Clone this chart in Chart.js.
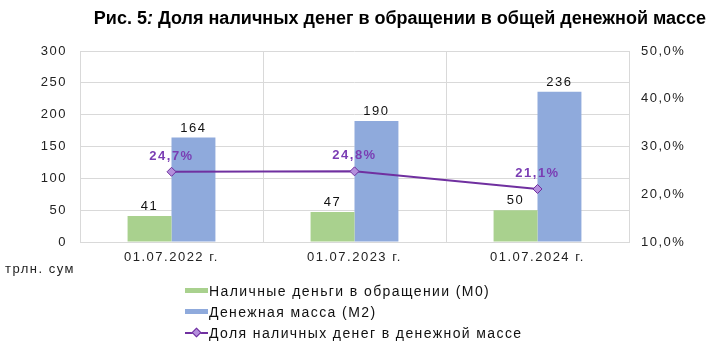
<!DOCTYPE html>
<html>
<head>
<meta charset="utf-8">
<script src="https://cdn.jsdelivr.net/npm/chart.js@4/dist/chart.umd.min.js"></script>
<style>
    body { margin: 0; background: #fff; }
    #wrap { position: relative; width: 720px; height: 352px; font-family: "Liberation Sans", Arial, sans-serif; }
    #chart { position: absolute; left: 0; top: 0; }
    .title { position: absolute; left: 0; width: 800px; top: 8px; text-align: center; font-weight: bold; font-size: 18px; color: #000; }
    .unit { position: absolute; left: 5px; top: 261px; font-size: 13px; letter-spacing: 1.5px; color: #222; }
    .legend { position: absolute; left: 185px; top: 280px; font-size: 14px; letter-spacing: 1.4px; color: #111; }
    .legend div { height: 21px; line-height: 18px; display: flex; align-items: center; }
    .sw { display: inline-block; width: 23px; height: 5px; margin-right: 1px; }
    .ln { position: relative; display: inline-block; width: 23px; height: 2px; margin-right: 1px; }
    .ln i { position: absolute; left: 8px; top: -3px; width: 5px; height: 5px; transform: rotate(45deg); }
</style>
</head>
<body>
<div id="wrap">
    <canvas id="chart" width="720" height="352"></canvas>
    <div class="title">Рис. 5<i>:</i> Доля наличных денег в обращении в общей денежной массе</div>
    <div class="unit">трлн. сум</div>
    <div class="legend" id="legend"></div>
</div>
<script>
const categories = ['01.07.2022 г.', '01.07.2023 г.', '01.07.2024 г.'];
const cashM0 = [41, 47, 50];
const moneyM2 = [164, 190, 236];
const cashShare = [24.7, 24.8, 21.1];
const seriesNames = ['Наличные деньги в обращении (М0)', 'Денежная масса (М2)', 'Доля наличных денег в денежной массе'];

const green = '#a9d18e';
const blue = '#8faadc';
const purple = '#7030a0';
const lilac = '#b48fdc';
const tickFont = { family: '"Liberation Sans", Arial, sans-serif', size: 13 };

// wider text like in the original picture
const spacing = {
    id: 'spacing',
    beforeUpdate(chart) { chart.ctx.letterSpacing = '1.5px'; },
    beforeDraw(chart) { chart.ctx.letterSpacing = '1.5px'; }
};

// value labels above the bars and the line points
const valueLabels = {
    id: 'valueLabels',
    afterDatasetsDraw(chart) {
        const ctx = chart.ctx;
        ctx.save();
        ctx.letterSpacing = '1.5px';
        ctx.textAlign = 'center';
        ctx.textBaseline = 'bottom';
        chart.data.datasets.forEach((ds, i) => {
            const meta = chart.getDatasetMeta(i);
            meta.data.forEach((el, j) => {
                if (ds.type === 'line') {
                    ctx.font = 'bold 13px "Liberation Sans", Arial, sans-serif';
                    ctx.fillStyle = '#7a3db3';
                    ctx.fillText(ds.data[j].toFixed(1).replace('.', ',') + '%', el.x, el.y - 9);
                } else {
                    ctx.font = '13px "Liberation Sans", Arial, sans-serif';
                    ctx.fillStyle = '#111';
                    ctx.fillText(ds.data[j], el.x, el.y - 3);
                }
            });
        });
        ctx.restore();
    }
};

const chart = new Chart(document.getElementById('chart'), {
    type: 'bar',
    data: {
        labels: categories,
        datasets: [
            { label: seriesNames[0], data: cashM0, backgroundColor: green, yAxisID: 'y', order: 2,
              categoryPercentage: 0.48, barPercentage: 1 },
            { label: seriesNames[1], data: moneyM2, backgroundColor: blue, yAxisID: 'y', order: 2,
              categoryPercentage: 0.48, barPercentage: 1 },
            { type: 'line', label: seriesNames[2], data: cashShare, yAxisID: 'y1', order: 1,
              borderColor: purple, borderWidth: 2, pointStyle: 'rectRot', pointRadius: 4.5,
              pointBackgroundColor: lilac, pointBorderColor: purple, pointBorderWidth: 1 }
        ]
    },
    options: {
        responsive: false,
        devicePixelRatio: 1,
        animation: false,
        layout: { padding: { top: 51, left: 0, right: 0, bottom: 0 } },
        plugins: { legend: { display: false }, tooltip: { enabled: false }, title: { display: false } },
        scales: {
            x: {
                grid: { color: '#d9d9d9', drawTicks: false },
                border: { color: '#d9d9d9' },
                ticks: { color: '#222', font: tickFont, padding: 8 },
                afterFit(s) { s.height = 110; }
            },
            y: {
                position: 'left', min: 0, max: 300,
                grid: { color: '#d9d9d9', drawTicks: false },
                border: { display: false },
                ticks: { stepSize: 50, color: '#222', font: tickFont, padding: 13 },
                afterFit(s) { s.width = 80; }
            },
            y1: {
                position: 'right', min: 10, max: 50,
                grid: { drawOnChartArea: false, drawTicks: false },
                border: { display: false },
                ticks: { stepSize: 10, color: '#222', font: tickFont, padding: 12,
                    callback: v => v.toFixed(1).replace('.', ',') + '%' },
                afterFit(s) { s.width = 91; }
            }
        }
    },
    plugins: [spacing, valueLabels]
});

// legend as plain text under the chart
const legend = document.getElementById('legend');
chart.data.datasets.forEach(ds => {
    const row = document.createElement('div');
    const mark = document.createElement('span');
    if (ds.type === 'line') {
        mark.className = 'ln';
        mark.style.background = ds.borderColor;
        const d = document.createElement('i');
        d.style.background = ds.pointBackgroundColor;
        d.style.border = '1px solid ' + ds.pointBorderColor;
        mark.appendChild(d);
    } else {
        mark.className = 'sw';
        mark.style.background = ds.backgroundColor;
    }
    row.appendChild(mark);
    row.appendChild(document.createTextNode(ds.label));
    legend.appendChild(row);
});
</script>
</body>
</html>
